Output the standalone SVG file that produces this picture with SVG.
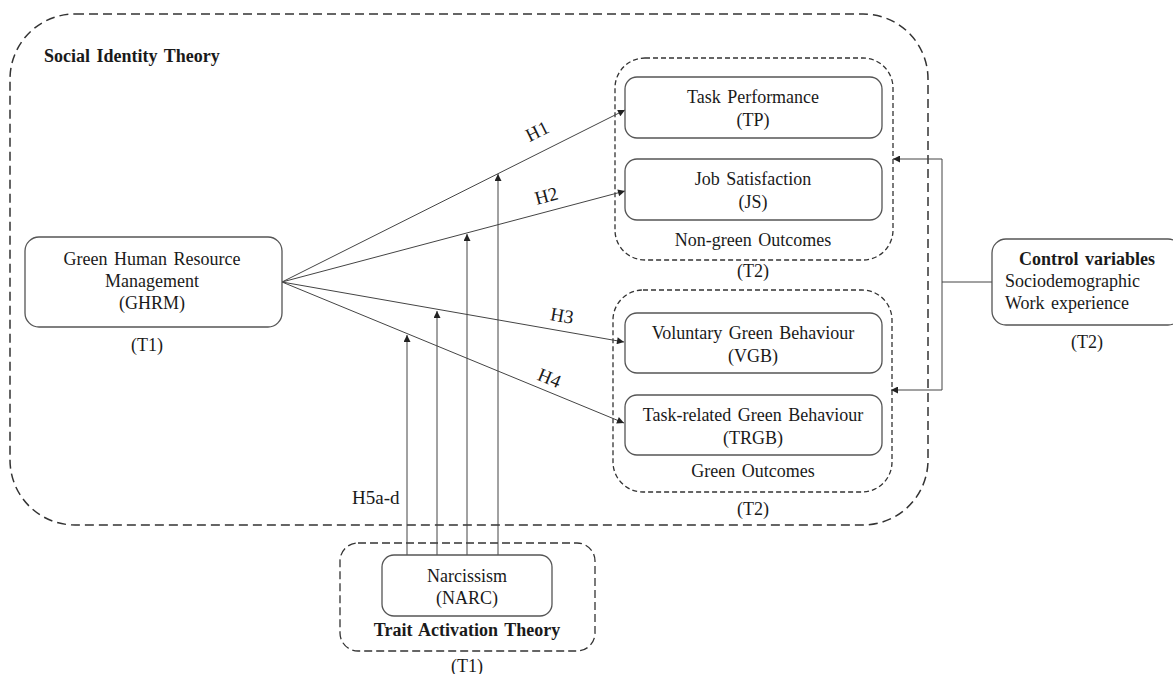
<svg xmlns="http://www.w3.org/2000/svg" width="1173" height="674" viewBox="0 0 1173 674">
<style>
text{font-family:"Liberation Serif","Times New Roman",serif;font-size:18px;fill:#1a1a1a;word-spacing:2px}
.b{font-weight:bold}
.m{text-anchor:middle}
.h{font-size:19px}
.node{fill:#fff;stroke:#555;stroke-width:1.3}
.outer{fill:none;stroke:#333;stroke-width:1.5;stroke-dasharray:9 5}
.grp{fill:none;stroke:#333;stroke-width:1.3;stroke-dasharray:5 3}
.c{fill:none;stroke:#444;stroke-width:1}
</style>
<defs>
<marker id="ah" viewBox="0 0 10 10" refX="10" refY="5" markerWidth="8" markerHeight="7" markerUnits="userSpaceOnUse" orient="auto">
<path d="M0,0 L10,5 L0,10 z" fill="#222"/>
</marker>
</defs>
<rect width="1173" height="674" fill="#fff"/>

<g id="social-identity-theory">
<rect class="outer" x="10" y="14" width="918" height="511" rx="65" ry="65"/>
<text class="b" x="44" y="62">Social Identity  Theory</text>
</g>

<g id="non-green-outcomes">
<rect class="grp" x="615" y="58" width="278" height="202" rx="30" ry="30"/>
<text class="m" x="753" y="246">Non-green  Outcomes</text>
<text class="m" x="753" y="277">(T2)</text>
</g>

<g id="green-outcomes">
<rect class="grp" x="613" y="290" width="279" height="202" rx="30" ry="30"/>
<text class="m" x="753" y="477">Green Outcomes</text>
<text class="m" x="753" y="515">(T2)</text>
</g>

<g id="trait-activation-theory">
<rect class="grp" x="340" y="543" width="255" height="108" rx="18" ry="18" style="stroke-dasharray:8 4"/>
<text class="b m" x="467" y="636">Trait Activation Theory</text>
<text class="m" x="467" y="672">(T1)</text>
</g>

<g id="connectors">
<line class="c" x1="282" y1="282" x2="625" y2="110" marker-end="url(#ah)"/>
<line class="c" x1="282" y1="282" x2="625" y2="191" marker-end="url(#ah)"/>
<line class="c" x1="282" y1="282" x2="624" y2="342" marker-end="url(#ah)"/>
<line class="c" x1="282" y1="282" x2="624" y2="423" marker-end="url(#ah)"/>
<line class="c" x1="498" y1="555" x2="498" y2="174" marker-end="url(#ah)"/>
<line class="c" x1="467" y1="555" x2="467" y2="234" marker-end="url(#ah)"/>
<line class="c" x1="437" y1="555" x2="437" y2="311" marker-end="url(#ah)"/>
<line class="c" x1="407" y1="555" x2="407" y2="335" marker-end="url(#ah)"/>
<polyline class="c" points="992,282 942,282"/>
<polyline class="c" points="942,282 942,159 893,159" marker-end="url(#ah)"/>
<polyline class="c" points="942,282 942,390 891,390" marker-end="url(#ah)"/>
<text transform="translate(540,137) rotate(-26.6)" class="m h">H1</text>
<text transform="translate(548,202) rotate(-14.9)" class="m h">H2</text>
<text transform="translate(561,322) rotate(9.9)" class="m h">H3</text>
<text transform="translate(547,384) rotate(22.3)" class="m h">H4</text>
<text class="h" x="352" y="504">H5a-d</text>
</g>

<g id="ghrm">
<rect class="node" x="25" y="237" width="257" height="90" rx="14" ry="14"/>
<text class="m" x="152" y="265">Green Human Resource</text>
<text class="m" x="152" y="287">Management</text>
<text class="m" x="152" y="309">(GHRM)</text>
<text class="m" x="147" y="351">(T1)</text>
</g>

<g id="tp">
<rect class="node" x="625" y="77" width="257" height="61" rx="12" ry="12"/>
<text class="m" x="753" y="103">Task Performance</text>
<text class="m" x="753" y="126">(TP)</text>
</g>

<g id="js">
<rect class="node" x="625" y="159" width="257" height="61" rx="12" ry="12"/>
<text class="m" x="753" y="185">Job Satisfaction</text>
<text class="m" x="753" y="208">(JS)</text>
</g>

<g id="vgb">
<rect class="node" x="625" y="313" width="257" height="60" rx="12" ry="12"/>
<text class="m" x="753" y="339">Voluntary Green Behaviour</text>
<text class="m" x="753" y="362">(VGB)</text>
</g>

<g id="trgb">
<rect class="node" x="625" y="395" width="257" height="60" rx="12" ry="12"/>
<text class="m" x="753" y="421">Task-related Green Behaviour</text>
<text class="m" x="753" y="444">(TRGB)</text>
</g>

<g id="narc">
<rect class="node" x="382" y="555" width="170" height="61" rx="12" ry="12"/>
<text class="m" x="467" y="582">Narcissism</text>
<text class="m" x="467" y="604">(NARC)</text>
</g>

<g id="control-variables">
<rect class="node" x="992" y="239" width="190" height="86" rx="14" ry="14"/>
<text class="b m" x="1087" y="265">Control variables</text>
<text x="1005" y="287">Sociodemographic</text>
<text x="1005" y="309">Work experience</text>
<text class="m" x="1087" y="348">(T2)</text>
</g>
</svg>
